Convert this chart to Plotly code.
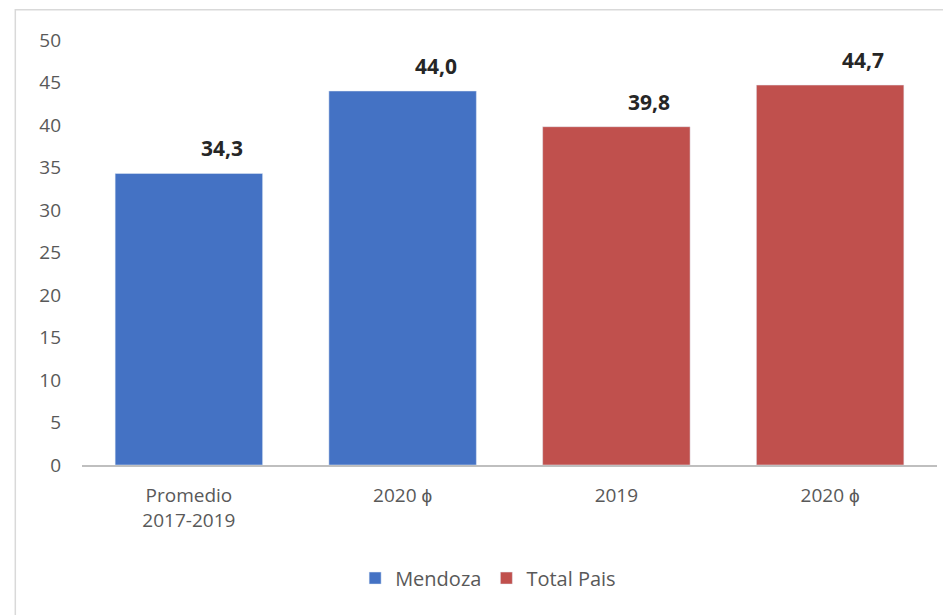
import plotly.graph_objects as go

categories = ["Promedio<br>2017-2019", "2020 ϕ", "2019", "2020 ϕ"]
mendoza_vals = [34.3, 44.0]
total_vals = [39.8, 44.7]
y_ticks = [0, 5, 10, 15, 20, 25, 30, 35, 40, 45, 50]

BLUE = "#4472C4"
RED = "#C0504D"
FONT = "Open Sans, Liberation Sans, sans-serif"

fig = go.Figure()
fig.add_trace(go.Bar(x=[0, 1], y=mendoza_vals, name="Mendoza", marker_color=BLUE))
fig.add_trace(go.Bar(x=[2, 3], y=total_vals, name="Total Pais", marker_color=RED))

# data labels, shifted right like the Excel original
for xi, v in zip([0, 1, 2, 3], mendoza_vals + total_vals):
    fig.add_annotation(x=xi, y=v, text=f"<b>{v:.1f}</b>".replace(".", ","),
                       showarrow=False, xshift=33, yshift=25,
                       font=dict(size=21, color="#262626", family=FONT))

# outer border of the chart area
fig.add_shape(type="rect", xref="paper", yref="paper",
              x0=-0.078, x1=1.02, y0=-0.37, y1=1.071,
              line=dict(color="#D9D9D9", width=1.5), layer="below")

fig.update_layout(
    width=951, height=615,
    margin=dict(l=74, r=22, t=32, b=158),
    plot_bgcolor="white", paper_bgcolor="white",
    bargap=0.31, barmode="overlay",
    font=dict(family=FONT, color="#595959", size=19),
    showlegend=True,
    legend=dict(orientation="h", x=0.475, xanchor="center", y=-0.266, yanchor="middle",
                font=dict(size=20, color="#595959"), itemwidth=30),
)
fig.update_xaxes(tickvals=[0, 1, 2, 3], ticktext=categories, range=[-0.5, 3.5],
                 showline=True, linecolor="#BFBFBF", linewidth=2, showgrid=False,
                 ticks="", ticklabelstandoff=12, tickfont=dict(size=19))
fig.update_yaxes(range=[0, 50], tickvals=y_ticks, showgrid=False, zeroline=False,
                 showline=False, ticks="", ticklabelstandoff=20, tickfont=dict(size=19))

fig.write_html("out.html")
